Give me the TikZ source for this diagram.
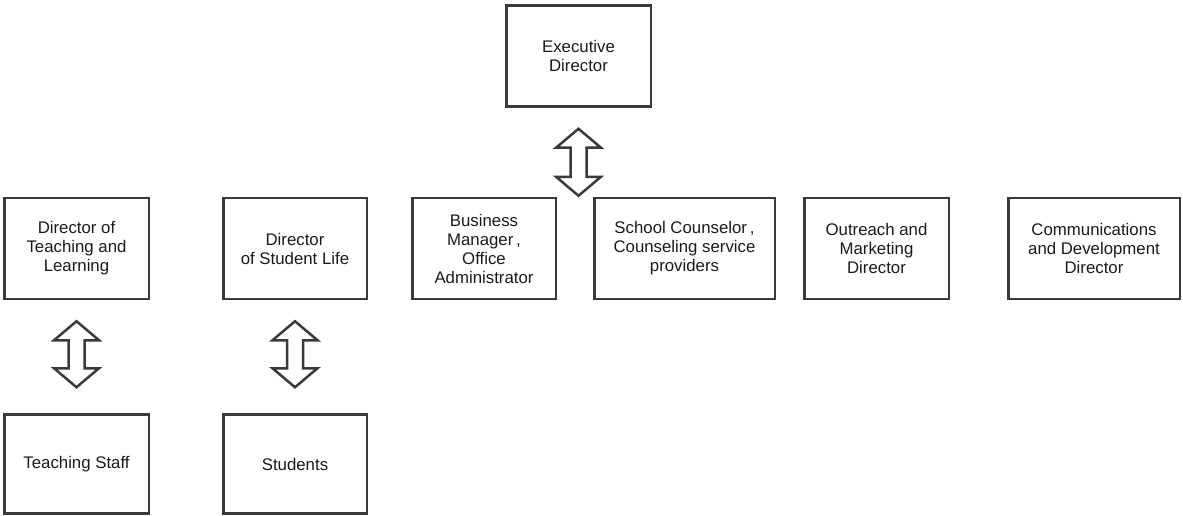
\documentclass[tikz,border=0pt]{standalone}
\usepackage{fontspec}
\setmainfont{Liberation Sans}
\usetikzlibrary{calc, positioning}
\definecolor{chartline}{HTML}{3A3A3A}
\definecolor{charttext}{HTML}{1A1A1A}
% hollow two-way arrow: [gap above lower end]{upper anchor}{lower point}
\newcommand{\twoway}[3][26pt]{%
  \draw[updown] let \p1=(#2), \p2=(#3) in
    (\x1,\y1-21pt) -- (\x1+22.5pt,\y1-40pt) -- (\x1+8pt,\y1-40pt)
    -- (\x1+8pt,\y2+#1+19pt) -- (\x1+22.5pt,\y2+#1+19pt) -- (\x1,\y2+#1)
    -- (\x1-22.5pt,\y2+#1+19pt) -- (\x1-8pt,\y2+#1+19pt)
    -- (\x1-8pt,\y1-40pt) -- (\x1-22.5pt,\y1-40pt) -- cycle;}

\begin{document}
\begin{tikzpicture}[x=1pt, y=-1pt,
  box/.style={draw=chartline, line width=2.5pt, minimum width=144.5pt, minimum height=101pt,
    align=center, text=charttext, inner sep=2pt, font=\fontsize{16.8}{19}\selectfont},
  updown/.style={draw=chartline, fill=white, line width=2.5pt, line join=miter}]
  \useasboundingbox (0,0) rectangle (1183,516);
  \node[box] (exec) at (578.5,56) {Executive\\Director};
  \node[box] (teach) at (76.5,248.5) {Director of\\Teaching and\\Learning};
  \node[box, minimum width=143.5pt, right=72pt of teach] (life) {Director\\of Student Life};
  \node[box, minimum width=143.5pt, right=43pt of life] (biz) {Business\\Manager\,,\\Office\\Administrator};
  \node[box, minimum width=180.5pt, right=36pt of biz] (counsel) {School Counselor\,,\\Counseling service\\providers};
  \node[box, right=27pt of counsel] (outreach) {Outreach and\\Marketing\\Director};
  \node[box, minimum width=171.5pt, right=57pt of outreach] (comms) {Communications\\and Development\\Director};
  \node[box, minimum height=99pt, below=113pt of teach] (staff) {Teaching Staff};
  \node[box, minimum width=143.5pt, minimum height=99pt, below=113pt of life] (students) {Students};
  \coordinate (rowtop) at (exec.south |- biz.north);
  \twoway[1pt]{exec.south}{rowtop}
  \twoway{teach.south}{staff.north}
  \twoway{life.south}{students.north}
\end{tikzpicture}
\end{document}
